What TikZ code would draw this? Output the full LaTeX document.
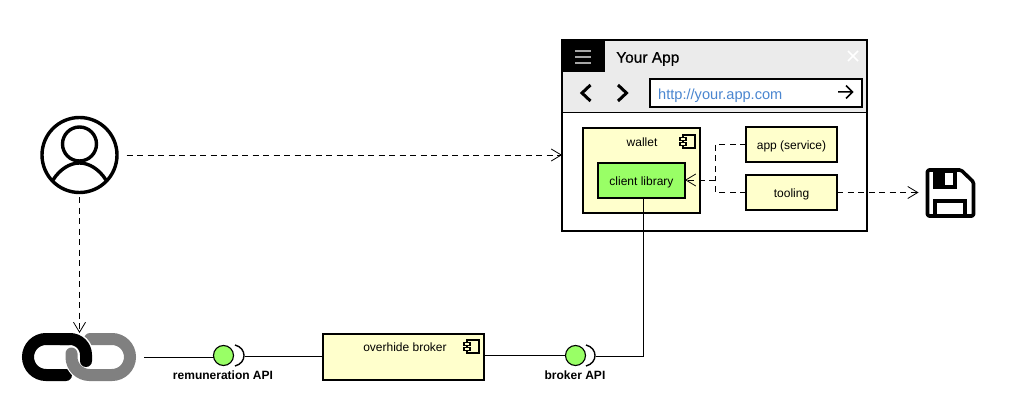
\documentclass[tikz,border=0pt]{standalone}
\usepackage{fontspec}
\setmainfont{Liberation Sans}
\usetikzlibrary{arrows.meta,calc}
\definecolor{umlyellow}{HTML}{FFFFCC}
\definecolor{umlgreen}{HTML}{99FF66}
\definecolor{bargray}{HTML}{EBEBEB}
\definecolor{urlblue}{HTML}{4A86D0}
\definecolor{linkgray}{HTML}{808080}
\tikzset{
  box/.style={draw=black,line width=1.8pt,outer sep=0pt,anchor=north west,inner sep=0pt,minimum width=#1},
  txt/.style={font=\fontsize{12}{14}\selectfont,inner sep=0pt},
  apilabel/.style={font=\fontsize{12}{14}\selectfont\bfseries,inner sep=0pt},
  ghost/.style={anchor=north west,inner sep=0pt,outer sep=0pt},
  iface/.style={circle,draw=black,line width=1.1pt,fill=umlgreen,minimum size=20pt,inner sep=0pt,outer sep=0pt},
  dep/.style={dashed,dash pattern=on 6pt off 4.5pt,line width=.7pt,black},
  deparrow/.style={dep,-{Straight Barb[length=10pt,width=12pt,line width=.8pt]}},
  wire/.style={line width=.8pt,black},
  socket/.style={line width=1.4pt,black},
  linkline/.style={line width=12pt,line cap=round},
  compicon/.style={line width=1.1pt,black,fill=umlyellow}
}
\newcommand{\compglyph}[2]{%
  \draw[compicon] (#1,#2) rectangle ++(12,13);
  \draw[compicon] (#1-3,#2+2.5) rectangle ++(6,3);
  \draw[compicon] (#1-3,#2+7.5) rectangle ++(6,3);
}
\begin{document}
\begin{tikzpicture}[x=1pt,y=-1pt]
\useasboundingbox (0,0) rectangle (1009,406);

% browser window
\node[box=305pt,minimum height=191pt,fill=white] (browser) at (562,40) {};
\fill[bargray] (563,41) rectangle (866,112);
\draw[line width=1.8pt] (562,112.5) -- (867,112.5);
\fill[black] (562,40) rectangle (605,72);
\draw[line width=1.8pt] (browser.north west) rectangle (browser.south east);
\draw[line width=1.5pt,color=black!35] (575,51) -- (591,51) (575,57) -- (591,57) (575,63) -- (591,63);
\node[font=\fontsize{15.5}{17}\selectfont\addfontfeatures{FakeBold=0.6},anchor=west,inner sep=0pt] (apptitle) at (616,59) {Your App};
\draw[white,line width=1.6pt] (848,51) -- (858,61) (858,51) -- (848,61);
\draw[line width=3pt,line join=miter] (590.5,85) -- (582,93) -- (590.5,101);
\draw[line width=3pt,line join=miter] (618,85) -- (626.5,93) -- (618,101);
\node[box=212pt,minimum height=28pt,fill=white] (urlbox) at (650,79) {};
\node[font=\fontsize{14.6}{16}\selectfont,text=urlblue,anchor=west,inner sep=0pt] (url) at (658,95.5) {http://your.app.com};
\draw[line width=1.5pt] (838,92) -- (852,92) (846,85.5) -- (852.5,92) -- (846,98.5);

% wallet
\node[box=117pt,minimum height=85pt,fill=umlyellow] (wallet) at (583,128) {};
\node[txt] (walletlabel) at (642,142) {wallet};
\compglyph{683}{135}
\node[box=87pt,minimum height=35pt,fill=umlgreen] (client) at (598,163) {};
\node[txt,yshift=-1.5pt] at (client.center) {client library};
\node[box=91pt,minimum height=35pt,fill=umlyellow] (app) at (746,127) {};
\node[txt,yshift=-2pt] at (app.center) {app (service)};
\node[box=91pt,minimum height=35pt,fill=umlyellow] (tooling) at (746,175) {};
\node[txt,yshift=-1.5pt] at (tooling.center) {tooling};
\coordinate (join) at (715,180);
\draw[dep] (app.west) -| (join);
\draw[dep] (tooling.west) -| (join);
\draw[deparrow] (join) -- (client.east |- join);

% user
\node[circle,draw=black,line width=3.4pt,minimum size=75pt,inner sep=0pt] (user) at (79.5,155) {};
\draw[line width=3.4pt] (79.5,144) circle (17);
\draw[line width=3.4pt] (53,180) .. controls (60,169) and (70,163) .. (79.5,163) .. controls (89,163) and (99,169) .. (106,180);

% floppy
\node[ghost,minimum width=50pt,minimum height=50pt] (floppy) at (925.5,168) {};
\draw[line width=3.6pt,line join=round,rounded corners=1.5pt] (927.5,170) -- (961,170) -- (973.5,182) -- (973.5,216) -- (927.5,216) -- cycle;
\fill[black] (933,170) rectangle (957,189);
\fill[white] (945,173) rectangle (953,185);
\draw[line width=3.2pt] (935,216) -- (935,201) -- (965,201) -- (965,216);

% chain link
\node[ghost,minimum width=114pt,minimum height=48pt] (link) at (22,333) {};
\draw[linkline,black] (66,375) -- (46,375) arc[start angle=90,end angle=270,radius=18,y=-1pt] -- (70,339);
\draw[line width=15pt,white] (90,375) arc[start angle=90,end angle=180,radius=18,y=-1pt];
\draw[linkline,linkgray] (71.5,353.5) -- (71.5,357) arc[start angle=180,end angle=90,radius=18,y=-1pt] -- (112,375) arc[start angle=90,end angle=-90,radius=18,y=-1pt] -- (90,339);
\draw[line width=15pt,white] (70,339) arc[start angle=270,end angle=360,radius=16,y=-1pt];
\draw[linkline,black] (86,361) -- (86,355) arc[start angle=0,end angle=-90,radius=16,y=-1pt] -- (60,339);

% broker
\node[box=161pt,minimum height=46pt,fill=umlyellow] (broker) at (323,334) {};
\node[txt] (brokerlabel) at (405,347) {overhide broker};
\compglyph{467}{340}

% interfaces
\node[iface] (remapi) at (223.5,355.5) {};
\node[ghost,minimum width=10pt,minimum height=22pt] (remsock) at (235,345) {};
\draw[socket] (235,345) .. controls (247,348) and (247,363) .. (235,366);
\node[apilabel] (remlabel) at (223,375) {remuneration API};
\node[iface] (brkapi) at (575.5,355.5) {};
\node[ghost,minimum width=10pt,minimum height=22pt] (brksock) at (586,345) {};
\draw[socket] (586,345) .. controls (598,348) and (598,363) .. (586,366);
\node[apilabel] (brklabel) at (575,375) {broker API};

% wires
\draw[wire,shorten <=8pt] (link.east) -- (remapi.west |- link.east);
\draw[wire] (remsock.east) -- (broker.west |- remsock.east);
\draw[wire] (broker.east |- brkapi.west) -- (brkapi.west);
\draw[wire] (brksock.east) -| (client.south -| 643,198);

% dependencies
\draw[deparrow,shorten <=8pt] (user.east) -- (browser.west |- user.east);
\draw[deparrow,shorten <=3pt] (user.south) -- (user.south |- link.north);
\draw[deparrow,shorten >=7pt] (tooling.east) -- (floppy.west |- tooling.east);
\end{tikzpicture}
\end{document}
